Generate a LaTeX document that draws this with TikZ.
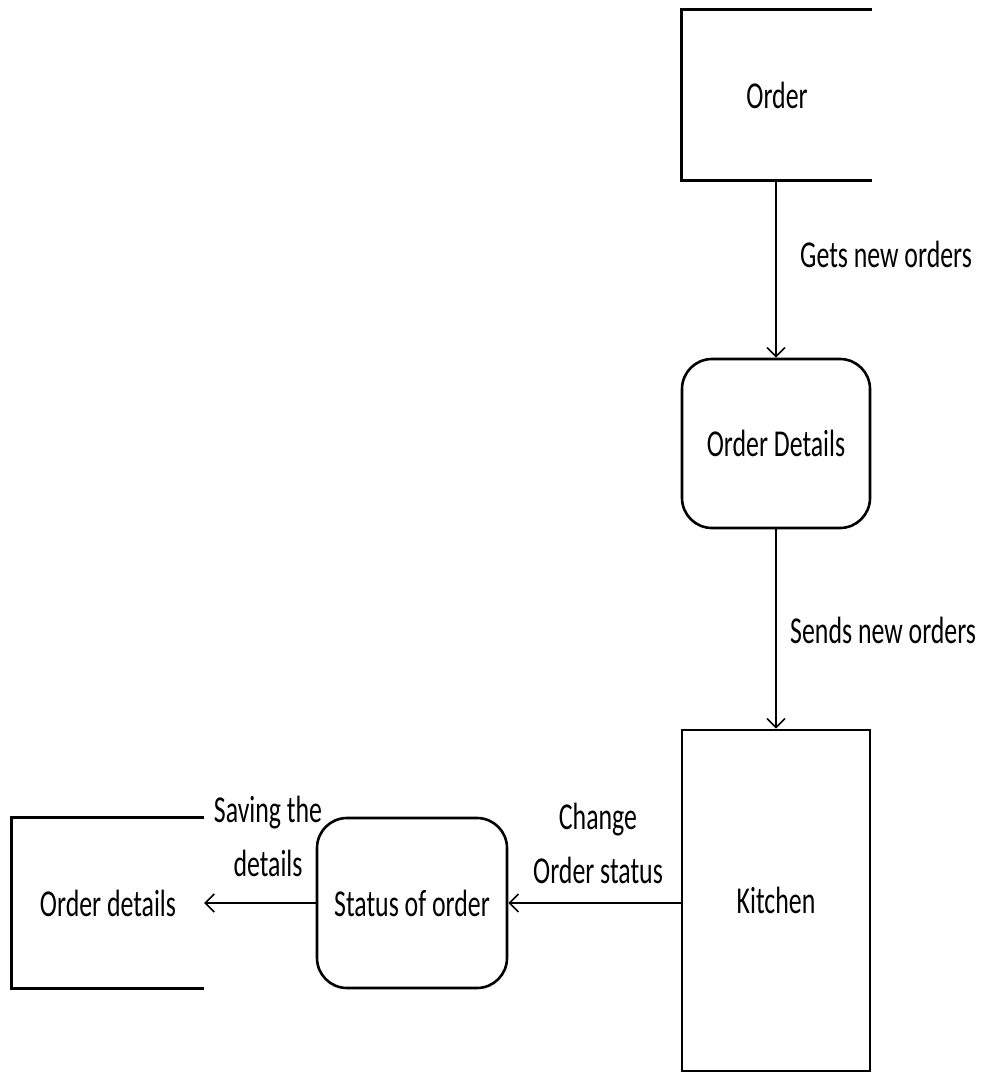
\documentclass[tikz,border=0pt]{standalone}
\usepackage{fontspec}
\setmainfont{Carlito}[FakeStretch=0.68]
\usetikzlibrary{arrows.meta}
\tikzset{
  lbl/.style={font=\fontsize{38}{54}\selectfont, align=center, inner sep=0pt},
  store/.style={minimum width=190pt, minimum height=170pt, inner sep=0pt, lbl},
  proc/.style={draw, line width=2.6pt, rounded corners=30pt, minimum width=188pt,
               minimum height=169pt, inner sep=0pt, lbl},
  entity/.style={draw, line width=2.6pt, minimum width=188pt, minimum height=341pt,
                 inner sep=0pt, lbl},
  storeline/.style={line width=2.8pt},
  flow/.style={line width=1.8pt, -{Straight Barb[length=9pt, width=18pt, line width=1.6pt]}}
}
\begin{document}
\begin{tikzpicture}[x=1pt, y=-1pt]
  \path[use as bounding box] (0,0) rectangle (992,1073);

  % data stores (open on the right)
  \node[store] (order) at (777,95) {Order};
  \draw[storeline] (order.north east) -- (order.north west)
                   -- (order.south west) -- (order.south east);
  \node[store, minimum width=192pt] (saved) at (108,903) {Order details};
  \draw[storeline] (saved.north east) -- (saved.north west)
                   -- (saved.south west) -- (saved.south east);

  % processes
  \node[proc] (details) at (776,443.5) {Order Details};
  \node[proc, minimum width=190pt, minimum height=170pt] (status) at (412,903) {Status of order};

  % external entity
  \node[entity] (kitchen) at (776,900.5) {Kitchen};

  % data flows
  \draw[flow] (order.south -| details.north) -- (details.north);
  \draw[flow] (details.south) -- (kitchen.north);
  \draw[flow] (kitchen.west |- status.east) -- (status.east);
  \draw[flow] (status.west) -- (saved.east);

  % flow labels
  \node[lbl, anchor=west] (l1) at (800,254) {Gets new orders};
  \node[lbl, anchor=west] (l2) at (790,630) {Sends new orders};
  \node[lbl] (l3) at (598,843) {Change\\Order status};
  \node[lbl] (l4) at (268,836) {Saving the\\details};
\end{tikzpicture}
\end{document}
